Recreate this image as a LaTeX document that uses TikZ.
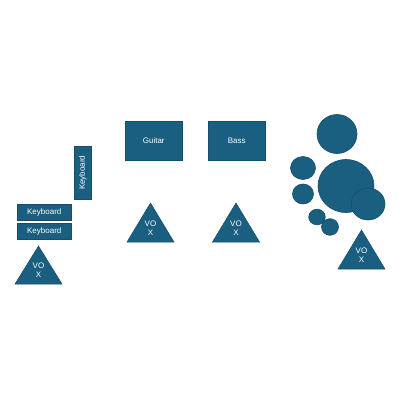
\documentclass[tikz,border=0pt]{standalone}
\usepackage{fontspec}
\setmainfont{Liberation Sans}
\definecolor{fillc}{HTML}{1A5E80}
\definecolor{edgec}{HTML}{144E6B}
\tikzset{
  inst/.style={draw=edgec, line width=0.5pt, fill=fillc, text=white, font=\fontsize{8}{9}\selectfont, inner sep=0pt, anchor=north west},
  drum/.style={draw=edgec, line width=0.6pt, fill=fillc},
  vox/.style={draw=edgec, line width=0.5pt, fill=fillc},
  voxtext/.style={text=white, font=\fontsize{8}{9.5}\selectfont, align=center, inner sep=0pt}
}
\newcommand{\voxtri}[4]{% name, apex x, apex y, base y ; half width 23.5
  \draw[vox] (#2,#3) -- (#2-23.5,#4) -- (#2+23.5,#4) -- cycle;
  \node[voxtext] (#1) at (#2,{#3+0.64*(#4-#3)}) {VO\\X};
}
\begin{document}
\begin{tikzpicture}[x=1pt,y=-1pt]
\useasboundingbox[fill=white] (0,0) rectangle (400,400);
% keyboards
\node[inst, minimum width=17pt, minimum height=53pt] (kbv) at (74,146) {};
\node[white, font=\fontsize{8}{9}\selectfont, rotate=90, inner sep=0pt] (kbvt) at (kbv.center) {Keyboard};
\node[inst, minimum width=54pt, minimum height=16pt] (kb1) at (17,204) {Keyboard};
\node[inst, minimum width=54pt, minimum height=16pt] (kb2) at (17,223) {Keyboard};
% guitar, bass
\node[inst, minimum width=57pt, minimum height=39pt] (guitar) at (125,121) {Guitar};
\node[inst, minimum width=57pt, minimum height=39pt] (bass) at (208,121) {Bass};
% vox triangles
\voxtri{vox1}{38.5}{246}{284}
\voxtri{vox2}{150.5}{203}{242}
\voxtri{vox3}{236}{203}{242}
\voxtri{vox4}{361.5}{230}{269}
% drums
\draw[drum] (337,134) ellipse [x radius=20, y radius=19.5];
\draw[drum] (303,168) ellipse [x radius=12.5, y radius=11.5];
\draw[drum] (303,194) ellipse [x radius=10.5, y radius=10];
\draw[drum] (346,186) ellipse [x radius=28, y radius=26.5];
\draw[drum] (368,204) ellipse [x radius=17, y radius=16];
\draw[drum] (317,217) ellipse [x radius=8.3, y radius=7.8];
\draw[drum] (330,227) ellipse [x radius=8.5, y radius=8.3];
\end{tikzpicture}
\end{document}
